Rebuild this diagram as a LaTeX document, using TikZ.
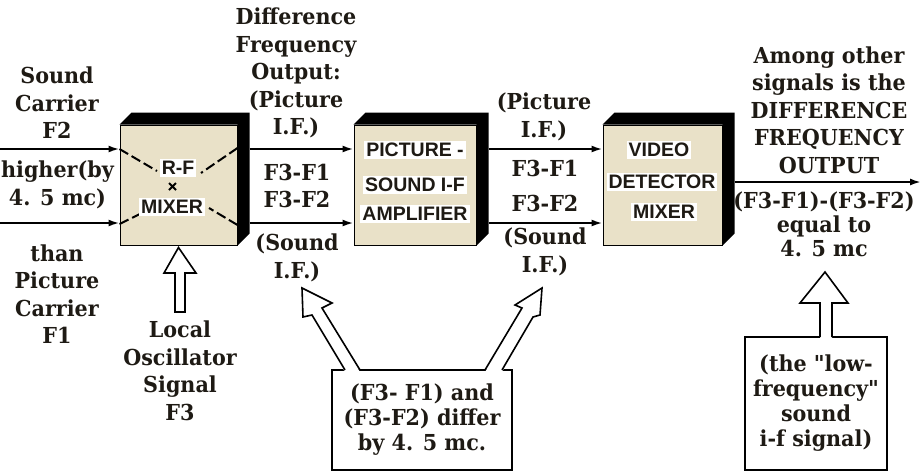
\documentclass[tikz,border=0pt]{standalone}
\usepackage{fontspec}
\usetikzlibrary{arrows.meta,calc}
\newfontfamily\lblfont{DejaVu Serif}[FakeStretch=0.94]
\newfontfamily\boxfont{Liberation Sans}
\definecolor{face}{HTML}{E9E1C8}
\definecolor{ink}{HTML}{1E1A14}
\begin{document}
\begin{tikzpicture}[x=1pt,y=-1pt,
  lbl/.style={font=\lblfont\bfseries\fontsize{22}{27.5}\selectfont, text=ink, align=center, inner sep=0pt},
  boxtxt/.style={font=\boxfont\bfseries\fontsize{19.5}{21}\selectfont, text=ink, fill=white, inner sep=2pt},
  unit/.style={draw=black, line width=1pt, fill=face, inner sep=0pt},
  sig/.style={line width=2pt, -{Latex[length=11pt,width=7pt]}},
  mixdash/.style={line width=2pt, dash pattern=on 10pt off 4pt},
  blockarrow/.style={draw=black, line width=1.6pt, fill=white, line join=miter},
  callout/.style={draw=black, line width=1.6pt, fill=white, inner sep=0pt}]
\useasboundingbox (0,0) rectangle (923,472);

% ---------- 3D units ----------
\node[unit, minimum width=117pt, minimum height=120pt] (mix) at (178.5,185) {};
\node[unit, minimum width=122pt, minimum height=120pt] (amp) at (415,185) {};
\node[unit, minimum width=119pt, minimum height=120pt] (det) at (662.5,185) {};
\foreach \b in {mix,amp,det}{
  \fill[black] (\b.north west) -- ++(12,-12) -- ($(\b.north east)+(12,-12)$) -- ($(\b.south east)+(12,-12)$) -- (\b.south east) -- (\b.north east) -- cycle;
}

% ---------- signal arrows ----------
\coordinate (inA) at (0,149);
\coordinate (inB) at (0,223);
\coordinate (outR) at (921,182);
\draw[sig] (inA) -- (inA -| mix.west);
\draw[sig] (inB) -- (inB -| mix.west);
\draw[sig] ([shift={(12,-36)}]mix.east) -- ([shift={(0,-36)}]amp.west);
\draw[sig] ([shift={(12,38)}]mix.east) -- ([shift={(0,38)}]amp.west);
\draw[sig] ([shift={(12,-36)}]amp.east) -- ([shift={(0,-36)}]det.west);
\draw[sig] ([shift={(12,38)}]amp.east) -- ([shift={(0,38)}]det.west);
\draw[sig] ([shift={(12,-3)}]det.east) -- (outR);

% ---------- mixer cross ----------
\draw[mixdash] ([shift={(0,-36)}]mix.west) -- (157,171);
\draw[mixdash] ([shift={(0,-37)}]mix.east) -- (201,173);
\draw[mixdash] ([shift={(0,39)}]mix.west) -- (144,212);
\draw[mixdash] ([shift={(0,40)}]mix.east) -- (209,208);

% ---------- texts in units ----------
\node[boxtxt] (rf) at (178,168) {R-F};
\node[boxtxt] (rfm) at (172,207) {MIXER};
\draw[line width=1.8pt] (169,183) -- (176,190) (169,190) -- (176,183);
\node[boxtxt] (a1) at (415,150) {PICTURE -};
\node[boxtxt] (a2) at (415,185) {SOUND I-F};
\node[boxtxt] (a3) at (415,214) {AMPLIFIER};
\node[boxtxt] (d1) at (659,150) {VIDEO};
\node[boxtxt] (d2) at (662,182) {DETECTOR};
\node[boxtxt] (d3) at (664,212) {MIXER};

% ---------- labels ----------
\node[lbl] (sc) at (57,103) {Sound\\Carrier\\F2};
\node[lbl] (hb) at (57.5,185) {higher(by\\4. 5 mc)};
\node[lbl] (pc) at (57,294) {than\\Picture\\Carrier\\F1};
\node[lbl] (lo) at (180,371) {Local\\Oscillator\\Signal\\F3};
\node[lbl] (dfo) at (296,73) {Difference\\Frequency\\Output:\\(Picture\\I.F.)};
\node[lbl] (f1a) at (297,186) {F3-F1\\F3-F2};
\node[lbl] (sa) at (297,258) {(Sound\\I.F.)};
\node[lbl] (pb) at (544,117) {(Picture\\I.F.)};
\node[lbl] (f1b) at (545,186) {F3-F1\\[8pt]F3-F2};
\node[lbl] (sb) at (545,252) {(Sound\\I.F.)};
\node[lbl] (amo) at (829,110) {Among other\\signals is the\\DIFFERENCE\\FREQUENCY\\OUTPUT};
\node[lbl, font=\lblfont\bfseries\fontsize{22}{24}\selectfont] (eq) at (824,224) {(F3-F1)-(F3-F2)\\equal to\\4. 5 mc};

% ---------- local oscillator block arrow ----------
\draw[blockarrow] ([yshift=-2]mix.south) -- (196,273) -- (185,273) -- (185,312) -- (175,312) -- (175,273) -- (164,273) -- cycle;

% ---------- callout boxes ----------
\node[callout, minimum width=180pt, minimum height=100pt] (cb1) at (422,420) {};
\node[lbl, font=\lblfont\bfseries\fontsize{22}{25}\selectfont] (cb1t) at (cb1.center) {(F3- F1) and\\(F3-F2) differ\\by 4. 5 mc.};
\node[callout, minimum width=142pt, minimum height=133pt] (cb2) at (816,403.5) {};
\node[lbl, font=\lblfont\bfseries\fontsize{22}{25}\selectfont] (cb2t) at (cb2.center) {(the "low-\\frequency"\\sound\\i-f signal)};

% left diagonal arrow
\fill[white] (345,372) -- (312,315) -- (322,308) -- (360,372) -- cycle;
\fill[white] (302,288) -- (332,303) -- (322,308) -- (312,315) -- (303,317) -- cycle;
\draw[line width=1.6pt, line join=miter] (345,370) -- (312,315) -- (303,317) -- (302,288) -- (332,303) -- (322,308) -- (360,370);
% right diagonal arrow
\fill[white] (485,372) -- (522,308) -- (533,317) -- (502,372) -- cycle;
\fill[white] (542,288) -- (540,315) -- (533,317) -- (522,308) -- (515,305) -- cycle;
\draw[line width=1.6pt, line join=miter] (485,370) -- (522,308) -- (515,305) -- (542,288) -- (540,315) -- (533,317) -- (502,370);
% up arrow to output
\fill[white] (820,339) -- (820,303) -- (800,303) -- (825,272) -- (848,303) -- (832,303) -- (832,339) -- cycle;
\draw[line width=1.6pt, line join=miter] (820,337) -- (820,303) -- (800,303) -- (825,272) -- (848,303) -- (832,303) -- (832,337);
\end{tikzpicture}
\end{document}
